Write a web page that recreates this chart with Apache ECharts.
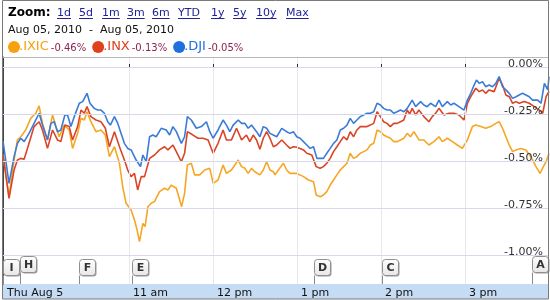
<!DOCTYPE html>
<html><head><meta charset="utf-8">
<script src="https://cdn.jsdelivr.net/npm/echarts@6/dist/echarts.min.js"></script>
<style>html,body{margin:0;padding:0;background:#fff}#c{width:550px;height:300px}</style>
</head><body><div id="c"></div>
<script>
// ---- data (minutes after 9:30 ET, % change) ----
const ixicTime = [0,4.3,7.9,10.3,12.7,16.2,19.8,23.4,25.8,28.2,31.8,35.4,37.8,40.1,43.7,47.3,49.7,53.3,55.7,58.1,60.0,62.8,66.4,70.0,73.1,76.0,79.6,83.2,85.5,87.9,91.5,93.9,95.8,97.5,99.9,101.5,103.5,105.8,108.2,111.8,115.4,117.8,120.2,123.8,127.6,129.7,131.7,134.5,136.9,140.5,144.1,147.7,150.1,153.6,157.2,159.6,163.2,165.6,168.0,170.4,172.8,175.1,177.5,179.9,183.5,185.9,188.3,190.7,193.1,194.3,196.7,200.3,202.6,205.0,207.4,209.8,212.2,214.6,218.2,221.8,223.7,226.5,228.9,231.3,233.7,236.1,238.5,240.9,243.3,245.7,248.0,250.4,252.8,255.2,257.6,260.0,262.4,264.8,267.2,269.6,271.9,274.3,276.7,279.1,281.5,283.9,286.3,288.7,291.1,293.5,297.1,300.6,304.2,307.8,311.4,313.8,317.4,321.0,324.5,328.1,331.7,335.3,337.7,341.3,344.8,348.4,352.0,354.4,356.8,359.2,361.6,364.0,366.4,369.9,373.5,377.1,380.7,383.6,386.0,387.9,390];
const ixicValue = [-0.465,-0.690,-0.495,-0.388,-0.371,-0.335,-0.273,-0.246,-0.207,-0.300,-0.388,-0.255,-0.317,-0.371,-0.309,-0.335,-0.433,-0.353,-0.273,-0.282,-0.238,-0.291,-0.344,-0.335,-0.362,-0.477,-0.424,-0.512,-0.637,-0.725,-0.761,-0.814,-0.867,-0.929,-0.832,-0.849,-0.743,-0.725,-0.716,-0.663,-0.645,-0.654,-0.628,-0.645,-0.743,-0.672,-0.521,-0.512,-0.574,-0.574,-0.548,-0.539,-0.619,-0.601,-0.521,-0.566,-0.548,-0.521,-0.495,-0.530,-0.539,-0.566,-0.539,-0.557,-0.574,-0.548,-0.504,-0.548,-0.557,-0.574,-0.548,-0.512,-0.548,-0.566,-0.566,-0.566,-0.574,-0.583,-0.601,-0.610,-0.681,-0.690,-0.681,-0.663,-0.628,-0.601,-0.574,-0.548,-0.530,-0.512,-0.459,-0.486,-0.477,-0.459,-0.450,-0.441,-0.415,-0.406,-0.335,-0.344,-0.362,-0.371,-0.379,-0.397,-0.397,-0.388,-0.379,-0.353,-0.371,-0.344,-0.388,-0.388,-0.415,-0.397,-0.371,-0.397,-0.379,-0.397,-0.415,-0.433,-0.388,-0.317,-0.309,-0.317,-0.326,-0.317,-0.300,-0.291,-0.326,-0.371,-0.415,-0.450,-0.441,-0.433,-0.441,-0.477,-0.530,-0.566,-0.530,-0.504,-0.460];

const inxTime = [0,4.3,7.9,10.3,12.7,15.1,18.6,22.2,25.8,28.2,31.8,35.4,38.9,41.3,44.2,47.3,49.7,53.3,55.7,58.1,60.0,62.8,66.4,70.0,73.1,76.0,79.6,83.2,86.7,89.1,91.5,93.9,96.2,98.7,101.1,104.7,108.2,111.8,115.4,117.8,121.4,123.8,127.4,129.7,131.7,135.7,139.3,142.9,146.5,150.1,153.6,157.2,159.6,163.2,166.8,170.4,173.9,176.3,178.7,181.1,183.5,185.9,188.3,190.7,193.1,195.5,199.1,202.6,205.0,207.4,209.8,212.2,214.6,217.0,220.6,221.8,223.7,226.5,228.9,231.3,233.7,236.1,238.5,240.9,243.3,245.7,248.0,250.4,252.8,255.2,257.6,260.0,262.4,264.8,267.2,269.6,271.9,274.3,276.7,279.1,281.5,283.9,286.3,288.7,290.5,292.3,294.7,297.1,300.6,304.2,306.6,309.0,311.4,315.0,318.6,322.1,325.7,329.3,331.7,334.1,337.7,340.1,342.5,344.8,347.2,350.8,354.4,356.8,359.2,361.6,364.0,366.4,368.7,372.3,375.9,379.5,383.1,385.5,387.9,390];
const inxValue = [-0.465,-0.699,-0.548,-0.495,-0.486,-0.491,-0.406,-0.317,-0.291,-0.335,-0.433,-0.335,-0.388,-0.397,-0.309,-0.317,-0.388,-0.317,-0.229,-0.246,-0.211,-0.264,-0.282,-0.291,-0.326,-0.424,-0.344,-0.424,-0.495,-0.548,-0.583,-0.566,-0.654,-0.583,-0.583,-0.486,-0.468,-0.441,-0.424,-0.441,-0.415,-0.450,-0.504,-0.459,-0.344,-0.362,-0.379,-0.379,-0.388,-0.459,-0.406,-0.335,-0.388,-0.388,-0.326,-0.388,-0.362,-0.397,-0.362,-0.388,-0.438,-0.379,-0.344,-0.379,-0.424,-0.415,-0.388,-0.415,-0.433,-0.424,-0.427,-0.433,-0.441,-0.459,-0.468,-0.477,-0.530,-0.539,-0.530,-0.512,-0.486,-0.450,-0.424,-0.397,-0.371,-0.388,-0.344,-0.371,-0.335,-0.317,-0.317,-0.317,-0.309,-0.300,-0.238,-0.264,-0.291,-0.300,-0.317,-0.300,-0.300,-0.291,-0.282,-0.229,-0.250,-0.220,-0.255,-0.229,-0.264,-0.291,-0.264,-0.246,-0.220,-0.255,-0.246,-0.246,-0.255,-0.282,-0.193,-0.158,-0.113,-0.131,-0.122,-0.140,-0.122,-0.131,-0.060,-0.096,-0.149,-0.158,-0.193,-0.184,-0.193,-0.184,-0.193,-0.211,-0.229,-0.246,-0.158,-0.130];

const djiTime = [0,4.3,7.9,10.3,12.7,15.1,18.6,22.2,25.8,28.2,31.8,34.2,36.6,38.9,41.3,44.2,46.1,48.5,50.9,54.5,56.9,60.0,62.1,65.2,67.6,70.0,72.4,74.8,76.7,79.6,82.0,84.3,86.7,89.1,91.5,95.1,98.2,99.9,102.3,104.7,107.0,109.4,113.0,116.6,119.0,121.4,123.8,127.4,129.7,131.7,134.5,138.1,141.7,145.3,147.7,150.1,153.6,157.2,159.6,162.0,164.4,168.0,170.4,172.8,175.1,177.5,181.1,183.5,185.9,188.3,190.7,193.1,195.5,199.1,202.6,205.0,207.4,209.8,212.2,214.6,217.0,219.4,221.8,224.2,226.5,228.9,231.3,233.7,236.1,238.5,240.9,243.3,245.7,248.0,250.4,252.8,255.2,257.6,260.0,262.4,264.8,267.2,269.6,271.9,274.3,276.7,279.1,281.5,283.9,286.3,288.7,292.3,294.7,298.3,300.6,303.0,305.4,309.0,311.4,313.8,317.4,319.8,322.1,325.7,329.3,331.7,334.1,336.5,338.2,340.1,342.5,344.8,347.2,349.6,352.0,354.4,356.8,359.2,361.6,364.0,366.4,368.7,371.1,373.5,375.9,378.3,381.9,384.3,386.7,389.1,390];
const djiValue = [-0.394,-0.619,-0.477,-0.406,-0.379,-0.397,-0.353,-0.300,-0.246,-0.309,-0.388,-0.300,-0.291,-0.344,-0.335,-0.255,-0.255,-0.317,-0.264,-0.193,-0.184,-0.140,-0.193,-0.220,-0.229,-0.229,-0.246,-0.291,-0.309,-0.264,-0.300,-0.353,-0.406,-0.433,-0.441,-0.495,-0.530,-0.468,-0.504,-0.371,-0.362,-0.371,-0.326,-0.335,-0.362,-0.317,-0.344,-0.406,-0.371,-0.264,-0.282,-0.326,-0.317,-0.291,-0.344,-0.379,-0.335,-0.282,-0.309,-0.344,-0.309,-0.282,-0.300,-0.300,-0.326,-0.309,-0.344,-0.371,-0.317,-0.326,-0.353,-0.362,-0.371,-0.326,-0.344,-0.353,-0.344,-0.371,-0.379,-0.397,-0.415,-0.433,-0.424,-0.486,-0.486,-0.486,-0.459,-0.433,-0.406,-0.388,-0.335,-0.326,-0.309,-0.273,-0.300,-0.282,-0.264,-0.255,-0.246,-0.246,-0.238,-0.193,-0.202,-0.220,-0.229,-0.229,-0.246,-0.238,-0.229,-0.238,-0.220,-0.176,-0.211,-0.184,-0.202,-0.211,-0.193,-0.211,-0.176,-0.211,-0.184,-0.202,-0.193,-0.211,-0.229,-0.176,-0.140,-0.096,-0.069,-0.087,-0.078,-0.105,-0.096,-0.105,-0.087,-0.051,-0.105,-0.122,-0.140,-0.167,-0.158,-0.149,-0.140,-0.149,-0.158,-0.176,-0.176,-0.193,-0.087,-0.122,-0.051];

const seriesNames = ['.IXIC', '.INX', '.DJI'];
const seriesChange = ['-0.46%', '-0.13%', '-0.05%'];

const xTickValues = [90, 150, 210, 270, 330];
const xTickLabels = ['11 am', '12 pm', '1 pm', '2 pm', '3 pm'];
const dateLabel = 'Thu Aug 5';
const yTickValues = [0, -0.25, -0.5, -0.75, -1];

const flagTime = [0, 12, 54, 92, 222, 271, 378];
const flagLetter = ['I', 'H', 'F', 'E', 'D', 'C', 'A'];
const flagRaise = [0, 1, 0, 0, 0, 0, 1];

const zoomLinks = ['1d', '5d', '1m', '3m', '6m', 'YTD', '1y', '5y', '10y', 'Max'];
const rangeText = 'Aug 05, 2010  -  Aug 05, 2010';

// ---- layout / style ----
const FONT = '"DejaVu Sans", Verdana, sans-serif';
const COLORS = ['#f6a623', '#da4527', '#3b7bd8'];
const DOT_COLORS = ['#f7a10e', '#e0401c', '#1f6fe0'];
const Y_MIN = -1.1543, Y_MAX = 0.0532;
const FLAG_LEVEL = -1;

const chart = echarts.init(document.getElementById('c'), null, {renderer: 'canvas', width: 550, height: 300});

const measure = (() => {
  const ctx = document.createElement('canvas').getContext('2d');
  return (text, font) => { ctx.font = font; return ctx.measureText(text).width; };
})();

const graphics = [];
// bottom blue band
graphics.push({type: 'rect', z: 0, shape: {x: 2, y: 284, width: 546, height: 15}, style: {fill: '#c5dcf4'}});
// header
graphics.push({type: 'text', z: 30, x: 8, y: 13, style: {text: 'Zoom:', font: 'bold 12px ' + FONT, fill: '#000', verticalAlign: 'middle'}});
const linkX = [57, 79, 102, 127, 152, 178, 211, 233, 256, 286];
const linkFont = '11px ' + FONT;
zoomLinks.forEach((l, i) => {
  const w = measure(l, linkFont);
  graphics.push({type: 'text', z: 30, x: linkX[i], y: 13, style: {text: l, font: linkFont, fill: '#22229a', verticalAlign: 'middle'}});
  graphics.push({type: 'line', z: 30, shape: {x1: linkX[i], y1: 18.5, x2: linkX[i] + w, y2: 18.5}, style: {stroke: '#22229a', lineWidth: 1}});
});
graphics.push({type: 'text', z: 30, x: 8, y: 30, style: {text: rangeText, font: '11px ' + FONT, fill: '#111', verticalAlign: 'middle'}});
// legend
let lx = 8;
seriesNames.forEach((n, i) => {
  graphics.push({type: 'circle', z: 30, shape: {cx: lx + 6, cy: 47, r: 6}, style: {fill: DOT_COLORS[i]}});
  const nx = lx + 11;
  const nFont = '13px ' + FONT;
  graphics.push({type: 'text', z: 31, x: nx, y: 47, style: {text: n, font: nFont, fill: DOT_COLORS[i], verticalAlign: 'middle'}});
  const cx = nx + measure(n, nFont) + 2;
  const cFont = '10px ' + FONT;
  graphics.push({type: 'text', z: 30, x: cx, y: 48, style: {text: seriesChange[i], font: cFont, fill: '#8b2250', verticalAlign: 'middle'}});
  lx = cx + measure(seriesChange[i], cFont) + 6;
});
// header separator and outer frame
graphics.push({type: 'line', z: 30, shape: {x1: 2, y1: 57.5, x2: 548, y2: 57.5}, style: {stroke: '#b8b8b8', lineWidth: 1}});
graphics.push({type: 'rect', z: 31, shape: {x: 2.5, y: 0.5, width: 546, height: 298.5}, style: {fill: null, stroke: '#7a7a7a', lineWidth: 1}});

const lineSeries = [ixicTime, inxTime, djiTime].map((times, k) => {
  const vals = [ixicValue, inxValue, djiValue][k];
  return {
    type: 'line', name: seriesNames[k], data: times.map((t, i) => [t, vals[i]]),
    showSymbol: false, smooth: false, z: 3 + k,
    lineStyle: {color: COLORS[k], width: 1.6}, itemStyle: {color: COLORS[k]},
    markLine: k === 0 ? {silent: true, symbol: ['none', 'none'], label: {show: false},
      lineStyle: {color: '#555', width: 1, type: 'solid'}, data: [{yAxis: 0}]} : undefined
  };
});

const flagSeries = {
  type: 'custom', z: 20, clip: false, silent: true,
  data: flagTime.map((t, i) => [t, FLAG_LEVEL, flagRaise[i], flagLetter[i]]),
  renderItem: function (params, api) {
    const t = api.value(0);
    const base = api.coord([t, api.value(1)]);
    const bottom = api.coord([t, Y_MIN]);
    const x = Math.round(base[0]) + 0.5;
    const top = Math.round(base[1]) + 4.5 - api.value(2) * 3;
    const letter = flagLetter[params.dataIndex];
    return {type: 'group', children: [
      {type: 'line', shape: {x1: x, y1: top + 16, x2: x, y2: bottom[1]}, style: {stroke: '#8a8a8a', lineWidth: 1}},
      {type: 'rect', shape: {x: x + 1, y: top + 1, width: 16, height: 16, r: 3}, style: {fill: '#9a9a9a'}},
      {type: 'rect', shape: {x: x, y: top, width: 16, height: 16, r: 3},
        style: {fill: new echarts.graphic.LinearGradient(0, 0, 0, 1, [{offset: 0, color: '#ffffff'}, {offset: 1, color: '#e6e6e6'}]), stroke: '#8f8f8f', lineWidth: 1}},
      {type: 'text', x: x + 8, y: top + 8.5, style: {text: letter, font: 'bold 11px ' + FONT, fill: '#333', align: 'center', verticalAlign: 'middle'}}
    ]};
  }
};

chart.setOption({
  animation: false,
  backgroundColor: '#fff',
  grid: {left: 3, right: 1, top: 57, bottom: 16},
  xAxis: {
    type: 'value', min: 0, max: 390, z: 5,
    axisLine: {show: false},
    axisTick: {show: true, inside: true, length: 3, customValues: xTickValues, lineStyle: {color: '#333'}},
    axisLabel: {customValues: [0].concat(xTickValues),
      formatter: v => v === 0 ? dateLabel : xTickLabels[xTickValues.indexOf(v)],
      align: 'left', padding: [0, 0, 0, 4], margin: 4, color: '#111', fontSize: 11, fontFamily: FONT},
    splitLine: {show: true, lineStyle: {color: '#e8e8ec', width: 1}}
  },
  yAxis: [{
    type: 'value', position: 'right', min: Y_MIN, max: Y_MAX, z: 6,
    axisLine: {show: false},
    axisTick: {show: false, customValues: yTickValues},
    axisLabel: {inside: true, customValues: yTickValues, formatter: v => v.toFixed(2) + '%',
      verticalAlign: 'bottom', align: 'right', margin: 6, color: '#333', fontSize: 11, fontFamily: FONT, lineHeight: 5},
    splitLine: {show: true, lineStyle: {color: '#d6d9ea', width: 1}}
  }, {
    type: 'value', position: 'left', min: Y_MIN, max: Y_MAX,
    axisLine: {show: true, lineStyle: {color: '#444', width: 1}},
    axisTick: {show: false}, axisLabel: {show: false}, splitLine: {show: false}
  }],
  graphic: graphics,
  series: lineSeries.concat([flagSeries])
});
</script></body></html>
